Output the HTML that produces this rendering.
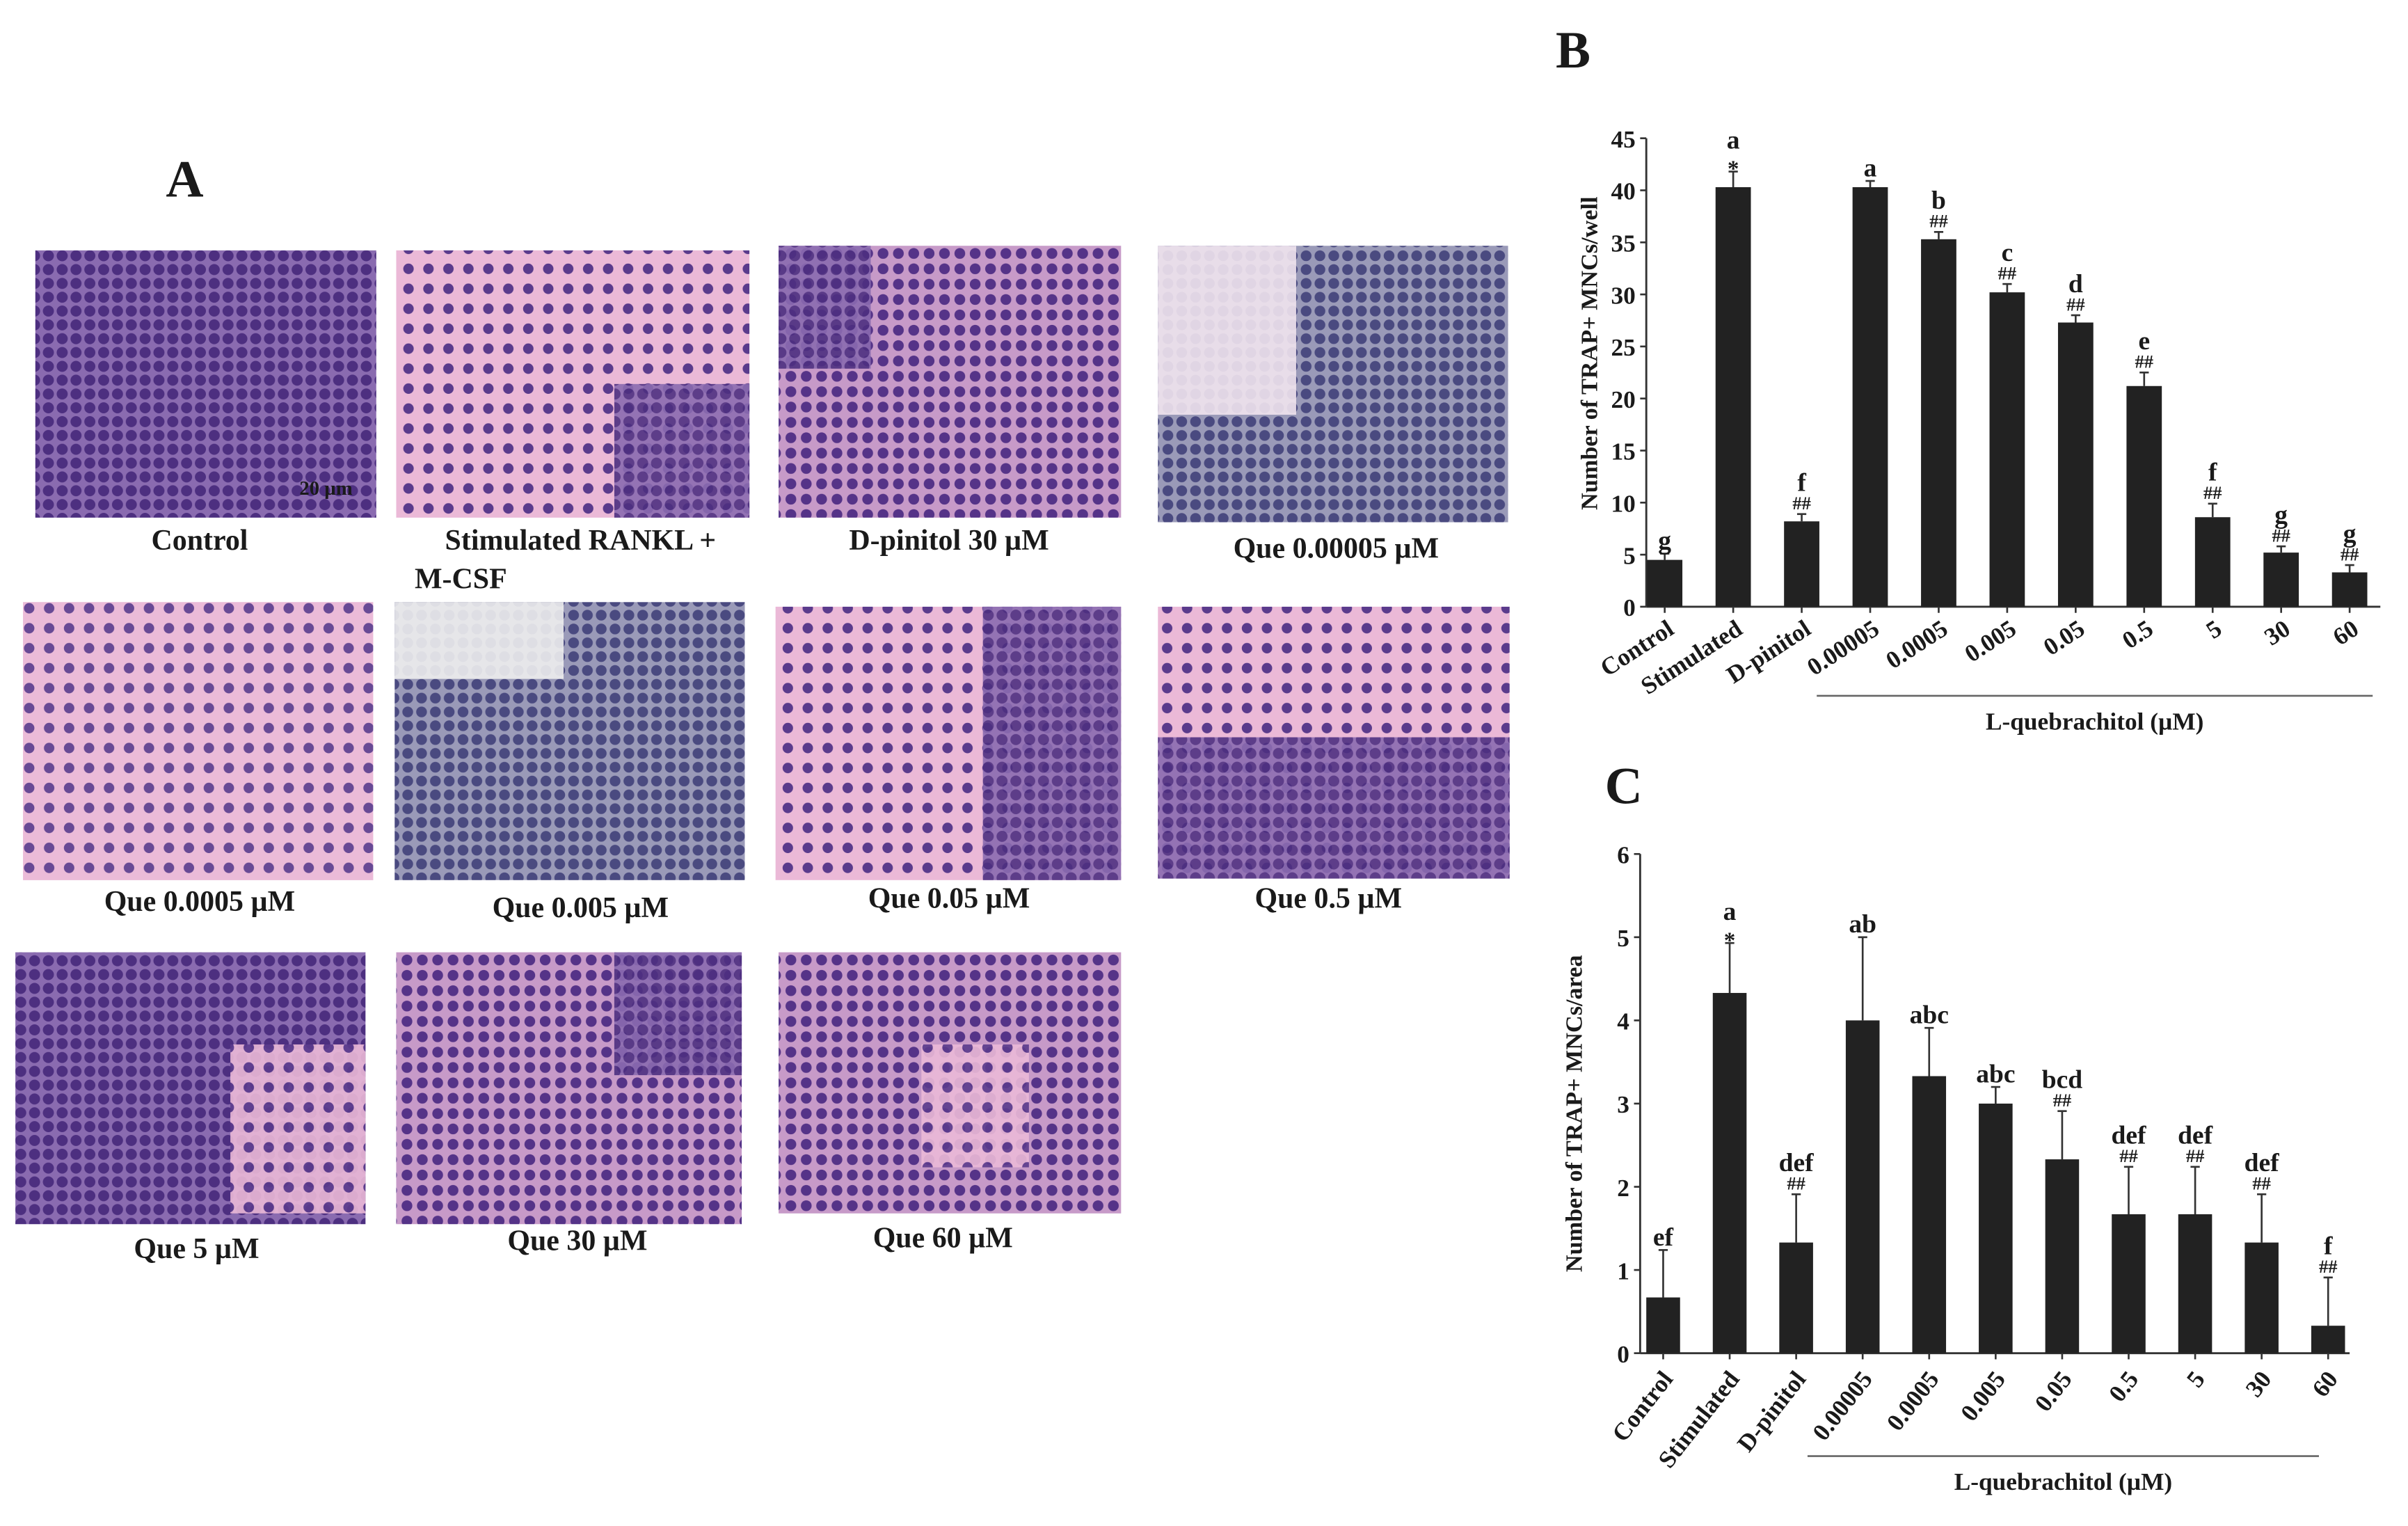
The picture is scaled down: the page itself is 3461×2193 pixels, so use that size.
<!DOCTYPE html>
<html><head><meta charset="utf-8"><style>
html,body{margin:0;padding:0;background:#fff;}
svg{display:block;}
text{font-family:"Liberation Serif",serif;font-weight:bold;fill:#1a1a1a;}
</style></head><body>
<svg id="fig" width="3461" height="2193" viewBox="0 0 1568 993.5" xmlns="http://www.w3.org/2000/svg">
<defs>
<pattern id="dotsDense" width="9" height="9" patternUnits="userSpaceOnUse"><rect width="9" height="9" fill="#8a6bb0"/><circle cx="4.5" cy="4.5" r="3.6" fill="#4d2f80"/></pattern>
<pattern id="dotsSparse" width="13" height="13" patternUnits="userSpaceOnUse"><rect width="13" height="13" fill="#ebb9d7"/><circle cx="6" cy="6" r="3.4" fill="#5a3a8c"/></pattern>
<pattern id="dotsMid" width="10" height="10" patternUnits="userSpaceOnUse"><rect width="10" height="10" fill="#c79ac8"/><circle cx="5" cy="5" r="3.5" fill="#553388"/></pattern>
<pattern id="dotsGrey" width="9" height="9" patternUnits="userSpaceOnUse"><rect width="9" height="9" fill="#9a9ab8"/><circle cx="4.5" cy="4.5" r="3.5" fill="#4a4a80"/></pattern>
</defs>
<g id="panelA"></g>
<g id="chartB"></g>
<g id="chartC"></g>
</svg>
<script>
const NS='http://www.w3.org/2000/svg';
const categories=['Control','Stimulated','D-pinitol','0.00005','0.0005','0.005','0.05','0.5','5','30','60'];
const valuesB=[4.5,40.3,8.2,40.3,35.3,30.2,27.3,21.2,8.6,5.2,3.3];
const errorsB=[0.6,1.5,0.7,0.6,0.7,0.8,0.7,1.3,1.3,0.6,0.7];
const lettersB=['g','a','f','a','b','c','d','e','f','g','g'];
const marksB=['','*','##','','##','##','##','##','##','##','##'];
const ticksB=[0,5,10,15,20,25,30,35,40,45];
const valuesC=[0.67,4.33,1.33,4.0,3.33,3.0,2.33,1.67,1.67,1.33,0.33];
const errorsC=[0.57,0.6,0.58,1.0,0.58,0.2,0.58,0.57,0.57,0.58,0.58];
const lettersC=['ef','a','def','ab','abc','abc','bcd','def','def','def','f'];
const marksC=['','*','##','','','','##','##','##','##','##'];
const ticksC=[0,1,2,3,4,5,6];
const photoLabels=['Control','Stimulated RANKL +','D-pinitol 30 µM','Que 0.00005 µM','Que 0.0005 µM','Que 0.005 µM','Que 0.05 µM','Que 0.5 µM','Que 5 µM','Que 30 µM','Que 60 µM'];

function el(tag,attrs,parent,txt){const e=document.createElementNS(NS,tag);for(const k in attrs)e.setAttribute(k,attrs[k]);if(txt!==undefined)e.textContent=txt;parent.appendChild(e);return e;}

const A=document.getElementById('panelA');
const aLab=el('text',{x:108,y:128,'font-size':34},A,'A');


const photos=[
 [23,163,222,174,'dotsDense',null],[258,163,230,174,'dotsSparse',[400,250,88,87,'dotsDense']],
 [507,160,223,177,'dotsMid',[507,160,60,80,'dotsDense']],[754,160,228,180,'dotsGrey',[754,160,90,110,'#f1e4ee']],
 [15,392,228,181,'#ead0e2',[15,392,228,181,'dotsSparse']],[257,392,228,181,'dotsGrey',[257,392,110,50,'#eee']],
 [505,395,225,178,'dotsSparse',[640,395,90,178,'dotsDense']],[754,395,229,177,'dotsSparse',[754,480,229,92,'dotsDense']],
 [10,620,228,177,'dotsDense',[150,680,88,110,'dotsSparse']],[258,620,225,177,'dotsMid',[400,620,83,80,'dotsDense']],
 [507,620,223,170,'dotsMid',[600,680,70,80,'dotsSparse']]];
const labelPos=[[130,352],[378,352],[618,352],[870,357],[130,587],[378,591],[618,585],[865,585],[128,813],[376,808],[614,806]];
photos.forEach((p,i)=>{
 const fill=p[4].startsWith('#')?p[4]:'url(#'+p[4]+')';
 const r=el('rect',{x:p[0],y:p[1],width:p[2],height:p[3],fill:fill},A);
 
 
 if(p[5]){const o=p[5];const f=o[4].startsWith('#')?o[4]:'url(#'+o[4]+')';el('rect',{x:o[0],y:o[1],width:o[2],height:o[3],fill:f,opacity:0.9},A);}
 const t=el('text',{x:labelPos[i][0],y:labelPos[i][1]+6,'font-size':19,'text-anchor':'middle'},A,photoLabels[i]);
 
 
});
const mcsf=el('text',{x:270,y:383,'font-size':19},A,'M-CSF');


const sb=el('text',{x:195,y:322,'font-size':13,fill:'#222'},A,'20 µm');



function chart(gid,cfg){
 const G=document.getElementById(gid);
 const yS=v=>cfg.y0-(v/cfg.ymax)*(cfg.y0-cfg.ytop);
 const xS=i=>cfg.x0+i*cfg.step;
 const pl=el('text',{x:cfg.lx,y:cfg.ly,'font-size':34},G,cfg.letter);
 
 
 const ya=el('line',{x1:cfg.ax,y1:cfg.ytop,x2:cfg.ax,y2:cfg.y0,stroke:'#333','stroke-width':1.3},G);
 
 
 const xa=el('line',{x1:cfg.ax,y1:cfg.y0,x2:cfg.xend,y2:cfg.y0,stroke:'#333','stroke-width':1.3},G);
 
 
 cfg.ticks.forEach(t=>{
  el('line',{x1:cfg.ax-4,y1:yS(t),x2:cfg.ax,y2:yS(t),stroke:'#333','stroke-width':1.2},G);
  const tl=el('text',{x:cfg.ax-7,y:yS(t)+6,'font-size':16,'text-anchor':'end'},G,String(t));
  
  
 });
 const yt=el('text',{transform:`translate(${cfg.tx},${cfg.ty}) rotate(-90)`,'font-size':15.5,'text-anchor':'middle'},G,cfg.ytitle);
 
 
 cfg.vals.forEach((v,i)=>{
  const x=xS(i);
  const b=el('rect',{x:x-cfg.bw/2,y:yS(v),width:cfg.bw,height:cfg.y0-yS(v),fill:'#222'},G);
  
  
  const top=yS(v+cfg.errs[i]);
  const e=el('line',{x1:x,y1:yS(v),x2:x,y2:top,stroke:'#333','stroke-width':1.2},G);
  
  
  el('line',{x1:x-3,y1:top,x2:x+3,y2:top,stroke:'#333','stroke-width':1.2},G);
  el('line',{x1:x,y1:cfg.y0,x2:x,y2:cfg.y0+4,stroke:'#333','stroke-width':1.2},G);
  let yy=top-3;
  if(cfg.marks[i]){const m=el('text',{x:x,y:yy+(cfg.marks[i]==='*'?6:0),'font-size':cfg.marks[i]==='*'?15:12,'text-anchor':'middle'},G,cfg.marks[i]);
   
   yy-=12;}
  const l=el('text',{x:x,y:yy,'font-size':17,'text-anchor':'middle'},G,cfg.letters[i]);
  
  
  const c=el('text',{transform:`translate(${x+7},${cfg.y0+17}) rotate(${cfg.rot})`,'font-size':16,'text-anchor':'end'},G,categories[i]);
  
  
 });
 const br=el('line',{x1:cfg.bx1,y1:cfg.by,x2:cfg.bx2,y2:cfg.by,stroke:'#666','stroke-width':1.2},G);
 
 
 const bl=el('text',{x:(cfg.bx1+cfg.bx2)/2,y:cfg.by+22,'font-size':16,'text-anchor':'middle'},G,'L-quebrachitol (µM)');
 
 
}
chart('chartB',{letter:'B',lx:1013,ly:44,ax:1072,ytop:90,y0:395,ymax:45,x0:1084,step:44.6,xend:1550,bw:23,
 vals:valuesB,errs:errorsB,letters:lettersB,marks:marksB,ticks:ticksB,tx:1040,ty:230,ytitle:'Number of TRAP+ MNCs/well',
 rot:-33,bx1:1183,bx2:1545,by:453});
chart('chartC',{letter:'C',lx:1045,ly:523,ax:1068,ytop:556,y0:881,ymax:6,x0:1083,step:43.3,xend:1530,bw:22,
 vals:valuesC,errs:errorsC,letters:lettersC,marks:marksC,ticks:ticksC,tx:1030,ty:725,ytitle:'Number of TRAP+ MNCs/area',
 rot:-52,bx1:1177,bx2:1510,by:948});
</script>
</body></html>
